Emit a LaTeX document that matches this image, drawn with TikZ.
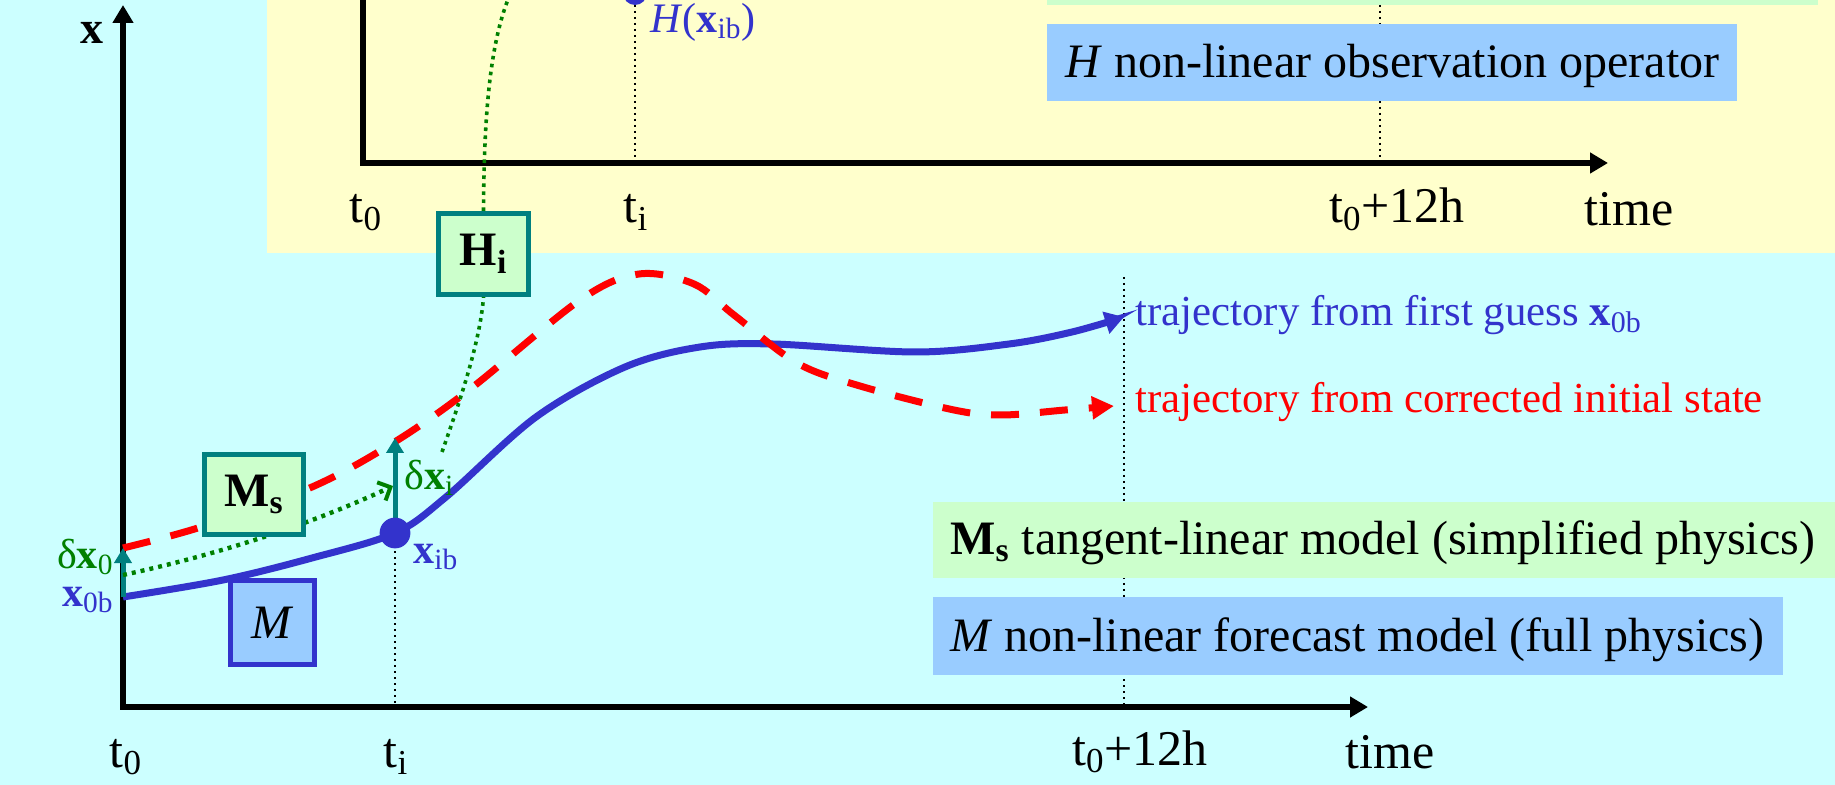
\documentclass[tikz,border=0pt]{standalone}
\usepackage{fontspec}
\setmainfont{Liberation Serif}
\usetikzlibrary{arrows.meta}
\definecolor{bgcyan}{HTML}{CCFFFF}
\definecolor{bgyellow}{HTML}{FFFFCC}
\definecolor{lgreen}{HTML}{CCFFCC}
\definecolor{lblue}{HTML}{99CCFF}
\definecolor{dblue}{HTML}{3333CC}
\definecolor{tealc}{HTML}{008080}
\definecolor{dgreen}{HTML}{008000}
\definecolor{rred}{HTML}{FF0000}
\newcommand\fslegend{\fontsize{24pt}{28pt}\selectfont}
\newcommand\fsaxis{\fontsize{25pt}{29pt}\selectfont}
\newcommand\fstraj{\fontsize{21.4pt}{25pt}\selectfont}
\newcommand\fslab{\fontsize{21pt}{25pt}\selectfont}
\begin{document}
\begin{tikzpicture}[x=0.5pt,y=-0.5pt,
  axtip/.tip={Triangle[length=9pt,width=10pt]},
  axisline/.style={line width=3pt,line join=miter},
  vdots/.style={black,line width=1.3pt,dash pattern=on 1.2pt off 1.8pt},
  gdots/.style={dgreen,line width=1.8pt,dash pattern=on 1.8pt off 2.2pt},
  tealarrow/.style={tealc,line width=2.5pt,-{Triangle[length=7.5pt,width=8.5pt]}},
  bluecurve/.style={dblue,line width=3.5pt,-{Triangle[length=9.5pt,width=11pt]}},
  redcurve/.style={rred,line width=3.5pt,dash pattern=on 14pt off 10.5pt,-{Triangle[length=11pt,width=11pt]}},
  gbox/.style={draw=tealc,fill=lgreen,line width=2.5pt,inner sep=0pt},
  bbox/.style={draw=dblue,fill=lblue,line width=2.5pt,inner sep=0pt},
  legtext/.style={inner sep=0pt,anchor=base west,font=\fslegend},
  axlabel/.style={inner sep=0pt,anchor=base,font=\fsaxis},
  trajtext/.style={inner sep=0pt,anchor=base west,font=\fstraj},
  ptlabel/.style={inner sep=0pt,font=\fslab}
]
\useasboundingbox (0,0) rectangle (1835,785);
\clip (0,0) rectangle (1835,785);
\fill[bgcyan] (0,0) rectangle (1835,785);
\fill[bgyellow] (267,-10) rectangle (1835,253);
\fill[lgreen] (1047,-10) rectangle (1818,5);

% dotted verticals at t0+12h
\draw[vdots] (1380,5) -- (1380,163);
\draw[vdots] (1124,277) -- (1124,707);

% legend boxes
\fill[lblue] (1047,24) rectangle (1737,101);
\node[legtext] (Hleg) at (1065,78) {\textit{H} non-linear observation operator};
\fill[lgreen] (933,502) rectangle (1835,578);
\node[legtext] (Msleg) at (950,554) {\textbf{M}\textsubscript{\textbf{s}} tangent-linear model (simplified physics)};
\fill[lblue] (933,597) rectangle (1783,675);
\node[legtext] (Mleg) at (950,651) {\textit{M} non-linear forecast model (full physics)};

% top axes (observation space)
\draw[axisline,-{axtip}] (363,-10) -- (363,163) -- (1608,163);
% bottom axes
\draw[axisline,{axtip}-{axtip}] (123,5) -- (123,707) -- (1368,707);

% coordinates
\coordinate (x0b) at (123,597);
\coordinate (x0a) at (123,548);
\coordinate (x0g) at (123,575);
\coordinate (xib) at (395,533);
\coordinate (xia) at (395,438);
\coordinate (xig) at (393,486);
\coordinate (hxib) at (635,-7);
\coordinate (ti) at (395,707);
\coordinate (tit) at (635,163);
\coordinate (hs) at (442,452);
\coordinate (he) at (512,-10);

% dotted verticals at ti
\draw[vdots] (hxib) -- (tit);
\draw[vdots] (xib) -- (ti);

% trajectories
\draw[bluecurve] plot[smooth,tension=0.55] coordinates {(123,597) (223,580) (312,558) (395,533) (446,497) (536,417) (625,367) (700,347) (773,344) (915,352) (1009,344) (1072,332) (1124,317)};
\draw[redcurve] plot[smooth,tension=0.55] coordinates {(123,548) (201,527) (312,487) (393,443) (469,390) (580,300) (639,274) (694,284) (734,315) (797,363) (860,386) (954,410) (1002,415) (1065,410) (1114,406)};

% increments
\draw[tealarrow] (x0b) -- (x0a);
\draw[gdots,line width=2.2pt,dash pattern=on 2pt off 2.5pt,-{Straight Barb[length=5pt,width=10pt,line width=2pt]}] (x0g) .. controls (230,552) and (320,520) .. (xig);
\draw[tealarrow] (xib) -- (xia);
\fill[dblue] (xib) circle (7.7pt);
\fill[dblue] (hxib) circle (6pt);

% operator boxes
\node[gbox,minimum width=45pt,minimum height=40.5pt] (Hi) at (483.5,254) {\fslegend\textbf{H}\textsubscript{\textbf{i}}};
\draw[gdots] (hs) .. controls (456,412) and (480,345) .. (Hi.south);
\draw[gdots] (Hi.north) .. controls (484,120) and (489,40) .. (he);
\node[gbox,minimum width=49.5pt,minimum height=40pt] (Ms) at (254,494.5) {\fslegend\textbf{M}\textsubscript{\textbf{s}}};
\node[bbox,minimum width=42pt,minimum height=42pt] (Mb) at (272.5,622.5) {\fslegend\textit{M}};

% axis labels
\node[inner sep=0pt,font=\fontsize{23pt}{27pt}\selectfont] (xlab) at (92,33) {\textbf{x}};
\node[axlabel] (t0top) at (366,223) {t\textsubscript{0}};
\node[axlabel] (titop) at (636,223) {t\textsubscript{i}};
\node[axlabel] (t12top) at (1397,223) {t\textsubscript{0}+12h};
\node[axlabel] (timetop) at (1629,226) {time};
\node[axlabel] (t0bot) at (126,767) {t\textsubscript{0}};
\node[axlabel] (tibot) at (396,767) {t\textsubscript{i}};
\node[axlabel] (t12bot) at (1140,765) {t\textsubscript{0}+12h};
\node[axlabel] (timebot) at (1390,768) {time};

% point labels
\node[ptlabel,text=dgreen,anchor=east] (dx0) at (114,557) {δ\textbf{x}\textsubscript{0}};
\node[ptlabel,text=dblue,anchor=east] (x0blab) at (114,600) {\textbf{x}\textsubscript{0b}};
\node[ptlabel,text=dblue,anchor=west] (xiblab) at (413,557) {\textbf{x}\textsubscript{ib}};
\node[ptlabel,text=dgreen,anchor=west] (dxi) at (404,478) {δ\textbf{x}\textsubscript{i}};
\node[ptlabel,text=dblue,anchor=west] (hlab) at (650,22) {\textit{H}(\textbf{x}\textsubscript{ib})};

% trajectory labels
\node[trajtext,text=dblue] (tr1) at (1135,326) {trajectory from first guess \textbf{x}\textsubscript{0b}};
\node[trajtext,text=rred] (tr2) at (1135,413) {trajectory from corrected initial state};
\end{tikzpicture}
\end{document}
